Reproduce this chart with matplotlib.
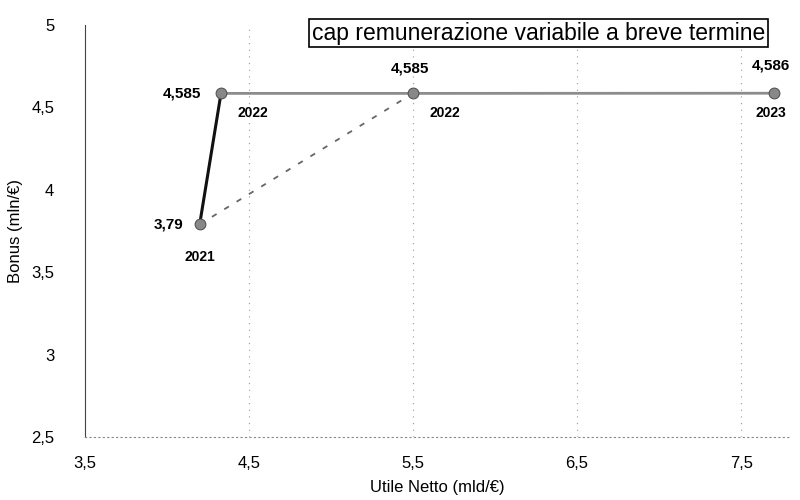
import matplotlib.pyplot as plt
from matplotlib.ticker import FuncFormatter

# data
years = ['2021', '2022', '2022', '2023']
utile = [4.2, 4.33, 5.5, 7.7]
bonus = [3.79, 4.585, 4.585, 4.586]
value_labels = ['3,79', '4,585', '4,585', '4,586']

plt.rcParams['font.family'] = ['Liberation Sans', 'DejaVu Sans']

fig = plt.figure(figsize=(8, 5), dpi=100)
ax = fig.add_axes([0.106, 0.126, 0.882, 0.824])

# grid (vertical dotted)
for x in [4.5, 5.5, 6.5, 7.5]:
    ax.axvline(x, color='#999999', lw=0.8, ls=(0, (1, 5)), zorder=0)

# dashed line 2021 -> 2022 (5.5)
ax.plot([utile[0], utile[2]], [bonus[0], bonus[2]], color='#666666', lw=1.3,
        ls=(0, (3, 5)), zorder=2)
# grey line 2022 -> 2022 -> 2023
ax.plot(utile[1:], bonus[1:], color='#8c8c8c', lw=2, zorder=2)
# solid black 2021 -> 2022
ax.plot(utile[:2], bonus[:2], color='#111111', lw=2.2, zorder=3)
ax.scatter(utile, bonus, s=60, color='#888888', edgecolor='#555555', lw=0.8, zorder=4)

# value and year labels
fs = 11
ax.text(utile[0] - 0.1, bonus[0], value_labels[0], ha='right', va='center', fontsize=fs, fontweight='bold')
ax.text(utile[0], bonus[0] - 0.2, years[0], ha='center', va='center', fontsize=10, fontweight='bold')
ax.text(utile[1] - 0.12, bonus[1], value_labels[1], ha='right', va='center', fontsize=fs, fontweight='bold')
ax.text(utile[1] + 0.1, bonus[1] - 0.12, years[1], ha='left', va='center', fontsize=10, fontweight='bold')
ax.text(utile[2] - 0.02, bonus[2] + 0.15, value_labels[2], ha='center', va='center', fontsize=fs, fontweight='bold')
ax.text(utile[2] + 0.1, bonus[2] - 0.12, years[2], ha='left', va='center', fontsize=10, fontweight='bold')
ax.text(utile[3] - 0.02, bonus[3] + 0.17, value_labels[3], ha='center', va='center', fontsize=fs, fontweight='bold')
ax.text(utile[3] - 0.02, bonus[3] - 0.12, years[3], ha='center', va='center', fontsize=10, fontweight='bold')

ax.text(0.643, 0.98, 'cap remunerazione variabile a breve termine', transform=ax.transAxes,
        ha='center', va='center', fontsize=16.5,
        bbox=dict(boxstyle='square,pad=0.12', facecolor='white', edgecolor='black', lw=1.2))

ax.set_xlim(3.5, 7.8)
ax.set_ylim(2.5, 5)
ax.set_xticks([3.5, 4.5, 5.5, 6.5, 7.5])
ax.set_yticks([2.5, 3, 3.5, 4, 4.5, 5])
fmt = FuncFormatter(lambda v, p: ('%g' % v).replace('.', ','))
ax.xaxis.set_major_formatter(fmt)
ax.yaxis.set_major_formatter(fmt)
ax.tick_params(axis='x', length=0, labelsize=12, pad=14)
ax.tick_params(axis='y', length=0, labelsize=12, pad=22)

for s in ['top', 'right']:
    ax.spines[s].set_visible(False)
ax.spines['left'].set_color('#444444')
ax.spines['bottom'].set_color('#888888')
ax.spines['bottom'].set_linestyle((0, (1, 3)))

ax.set_xlabel('Utile Netto (mld/€)', fontsize=12, labelpad=6)
ax.set_ylabel('Bonus (mln/€)', fontsize=12, labelpad=6)

fig.savefig('out.png', dpi=100)
